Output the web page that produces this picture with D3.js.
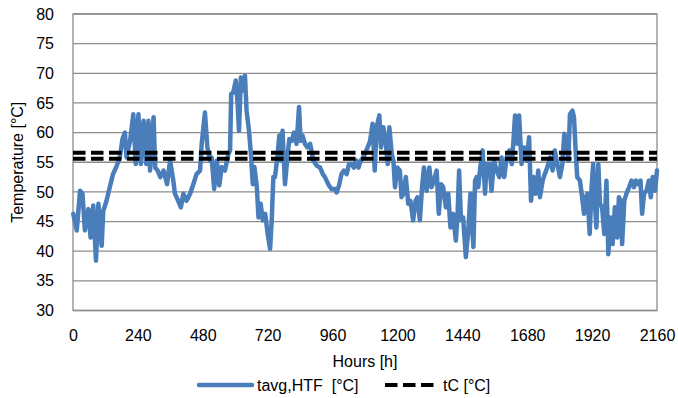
<!DOCTYPE html>
<html>
<head>
<meta charset="utf-8">
<script src="https://cdn.jsdelivr.net/npm/d3@7"></script>
<style>
  html, body { margin: 0; padding: 0; background: #fff; }
  svg { display: block; }
  text { font-family: "Liberation Sans", Arial, sans-serif; fill: #000; }
</style>
</head>
<body>
<svg id="chart" width="678" height="398"></svg>
<script>
// Hour of the simulation period
const hours = [
  1, 14, 26, 35, 44, 57, 65, 75, 85, 94, 106, 112, 124, 136, 148, 160, 173, 183, 192, 198,
  211, 223, 232, 242, 251, 261, 271, 279, 285, 298, 304, 313, 323, 335, 348, 359, 371, 377, 389, 399,
  408, 420, 433, 445, 457, 470, 476, 488, 497, 507, 513, 522, 532, 541, 550, 562, 575, 581, 585, 593,
  602, 609, 614, 621, 631, 636, 642, 651, 658, 665, 671, 680, 686, 694, 702, 711, 720, 729, 735, 741,
  747, 756, 763, 769, 775, 784, 793, 800, 809, 817, 827, 836, 842, 849, 858, 867, 877, 889, 902, 914,
  924, 932, 944, 956, 969, 975, 984, 993, 1002, 1012, 1021, 1031, 1039, 1047, 1056, 1064, 1074, 1087, 1099, 1108,
  1116, 1123, 1133, 1139, 1148, 1156, 1164, 1170, 1179, 1185, 1191, 1199, 1209, 1215, 1222, 1231, 1240, 1248, 1258, 1267,
  1274, 1283, 1291, 1298, 1308, 1318, 1326, 1335, 1345, 1353, 1361, 1369, 1379, 1388, 1396, 1406, 1416, 1422, 1428, 1435,
  1443, 1453, 1462, 1470, 1475, 1481, 1487, 1493, 1499, 1505, 1515, 1524, 1530, 1540, 1548, 1557, 1567, 1577, 1585, 1595,
  1604, 1614, 1623, 1629, 1635, 1643, 1650, 1659, 1668, 1678, 1687, 1694, 1703, 1711, 1721, 1727, 1737, 1745, 1754, 1764,
  1774, 1782, 1791, 1801, 1810, 1817, 1826, 1832, 1838, 1847, 1853, 1859, 1865, 1875, 1883, 1890, 1896, 1903, 1911, 1918,
  1924, 1930, 1936, 1943, 1949, 1957, 1965, 1973, 1980, 1988, 1996, 2004, 2013, 2019, 2026, 2031, 2039, 2047, 2057, 2066,
  2075, 2082, 2090, 2099, 2105, 2112, 2121, 2130, 2137, 2144, 2153, 2160
];

// Average heat-transfer-fluid temperature [°C]
const tavgHTF = [
  46.3, 43.5, 50.2, 49.7, 43.5, 47.1, 42.3, 47.7, 38.4, 48.0, 40.9, 46.8, 48.5, 50.8, 53.0, 54.2, 55.8, 58.9, 60.0, 55.8,
  58.6, 63.1, 54.7, 63.1, 54.7, 62.0, 54.7, 62.0, 53.6, 62.6, 54.1, 53.6, 52.5, 53.6, 51.3, 55.3, 51.9, 49.7, 48.5, 47.4,
  49.7, 48.5, 49.7, 51.3, 53.0, 53.6, 58.1, 63.4, 57.5, 55.3, 55.8, 50.5, 55.3, 51.1, 54.2, 53.6, 56.4, 57.0, 66.5, 66.8,
  68.8, 64.8, 60.3, 69.3, 67.1, 69.6, 63.7, 60.3, 56.4, 51.3, 54.2, 50.8, 45.7, 48.0, 45.2, 46.3, 42.9, 40.4, 45.2, 52.5,
  52.5, 55.8, 59.5, 55.3, 60.3, 51.3, 55.8, 58.9, 58.6, 60.0, 58.1, 64.3, 58.6, 59.5, 58.1, 57.5, 58.1, 55.3, 54.4, 54.1,
  53.0, 52.5, 51.3, 50.5, 50.5, 49.9, 51.1, 53.0, 53.6, 53.0, 54.7, 54.7, 54.1, 55.3, 54.1, 55.3, 55.8, 57.2, 58.6, 61.5,
  53.6, 60.9, 62.9, 57.5, 60.9, 58.6, 54.7, 60.9, 56.4, 55.3, 50.8, 54.1, 53.6, 49.1, 49.7, 52.5, 48.0, 48.5, 45.2, 48.5,
  49.1, 45.2, 50.8, 54.1, 50.2, 54.1, 50.8, 51.9, 53.6, 46.3, 51.3, 50.8, 47.4, 49.7, 44.0, 46.3, 41.8, 45.7, 53.6, 45.2,
  45.7, 39.0, 43.5, 49.7, 45.2, 40.7, 51.9, 52.5, 50.8, 53.6, 57.0, 49.7, 54.7, 54.7, 50.2, 55.3, 53.6, 52.5, 55.8, 52.5,
  55.8, 57.0, 54.7, 58.6, 62.9, 58.1, 62.9, 54.7, 57.5, 55.3, 59.2, 48.5, 52.5, 49.7, 53.6, 49.1, 51.9, 53.0, 54.1, 55.8,
  53.6, 57.0, 54.7, 52.5, 54.7, 59.8, 58.6, 55.3, 63.1, 63.7, 62.6, 57.0, 52.5, 51.9, 49.1, 46.3, 49.1, 49.7, 42.9, 50.8,
  54.7, 48.0, 44.0, 54.7, 48.0, 47.4, 42.9, 51.9, 39.5, 45.7, 41.2, 47.4, 42.3, 49.1, 48.5, 41.2, 48.5, 49.7, 50.8, 51.9,
  50.8, 51.9, 51.3, 51.9, 46.3, 49.7, 50.2, 51.9, 49.1, 52.5, 50.2, 53.6
];

// Charging temperature levels [°C]
const tCLevels = [56.6, 55.6];

const xTicks = [0, 240, 480, 720, 960, 1200, 1440, 1680, 1920, 2160];
const yTicks = [30, 35, 40, 45, 50, 55, 60, 65, 70, 75, 80];

const seriesNames = ["tavg,HTF  [°C]", "tC [°C]"];
const blue = "#4a7ebb";
const gridColor = "#8c8c8c";

const svg = d3.select("#chart");
const plot = { left: 73, right: 657, top: 14, bottom: 310.5 };

const x = d3.scaleLinear().domain([0, 2160]).range([plot.left, plot.right]);
const y = d3.scaleLinear().domain([30, 80]).range([plot.bottom, plot.top]);

// Horizontal gridlines
svg.append("g")
  .selectAll("line")
  .data(yTicks)
  .join("line")
  .attr("x1", plot.left).attr("x2", plot.right)
  .attr("y1", d => y(d)).attr("y2", d => y(d))
  .attr("stroke", gridColor).attr("stroke-width", 1.3);

// Plot frame
svg.append("rect")
  .attr("x", plot.left).attr("y", plot.top)
  .attr("width", plot.right - plot.left).attr("height", plot.bottom - plot.top)
  .attr("fill", "none").attr("stroke", gridColor).attr("stroke-width", 1.3);

// Y axis labels
const yAxis = d3.axisLeft(y).tickValues(yTicks).tickSize(0).tickPadding(0);
svg.append("g")
  .attr("transform", `translate(${plot.left - 19},0)`)
  .call(yAxis)
  .call(g => g.select(".domain").remove())
  .selectAll("text")
  .style("font-family", "Liberation Sans, Arial, sans-serif")
  .style("font-size", "16px")
  .attr("fill", "#000");

// X axis labels
const xAxis = d3.axisBottom(x).tickValues(xTicks).tickFormat(d3.format("d")).tickSize(0).tickPadding(0);
svg.append("g")
  .attr("transform", `translate(0,${plot.bottom + 19})`)
  .call(xAxis)
  .call(g => g.select(".domain").remove())
  .selectAll("text")
  .style("font-family", "Liberation Sans, Arial, sans-serif")
  .style("font-size", "16px")
  .attr("fill", "#000");

// Axis titles
svg.append("text")
  .attr("x", (plot.left + plot.right) / 2).attr("y", 367)
  .attr("text-anchor", "middle")
  .style("font-size", "16px")
  .text("Hours [h]");

svg.append("text")
  .attr("transform", `translate(23,${(plot.top + plot.bottom) / 2}) rotate(-90)`)
  .attr("text-anchor", "middle")
  .style("font-size", "16px")
  .text("Temperature [°C]");

// HTF temperature series
const data = hours.map((h, i) => ({ h, t: tavgHTF[i] }));
const line = d3.line().x(d => x(d.h)).y(d => y(d.t));
svg.append("path")
  .datum(data)
  .attr("d", line)
  .attr("fill", "none")
  .attr("stroke", blue)
  .attr("stroke-width", 4.5)
  .attr("stroke-linejoin", "round")
  .attr("stroke-linecap", "round");

// Charging temperature levels
svg.append("g")
  .selectAll("line")
  .data(tCLevels)
  .join("line")
  .attr("x1", x(0)).attr("x2", x(2160))
  .attr("y1", d => y(d)).attr("y2", d => y(d))
  .attr("stroke", "#000").attr("stroke-width", 4)
  .attr("stroke-dasharray", "12.5,5.5");

// Legend
const legend = svg.append("g").attr("transform", "translate(0,385)");
legend.append("line")
  .attr("x1", 199).attr("x2", 252).attr("y1", 0).attr("y2", 0)
  .attr("stroke", blue).attr("stroke-width", 4.5).attr("stroke-linecap", "round");
legend.append("text")
  .attr("x", 257).attr("y", 6)
  .style("font-size", "16px")
  .style("white-space", "pre")
  .text(seriesNames[0]);
legend.append("line")
  .attr("x1", 385).attr("x2", 434).attr("y1", 0).attr("y2", 0)
  .attr("stroke", "#000").attr("stroke-width", 4)
  .attr("stroke-dasharray", "12.5,5.5").attr("stroke-linecap", "butt");
legend.append("text")
  .attr("x", 443).attr("y", 6)
  .style("font-size", "16px")
  .text(seriesNames[1]);
</script>
</body>
</html>
